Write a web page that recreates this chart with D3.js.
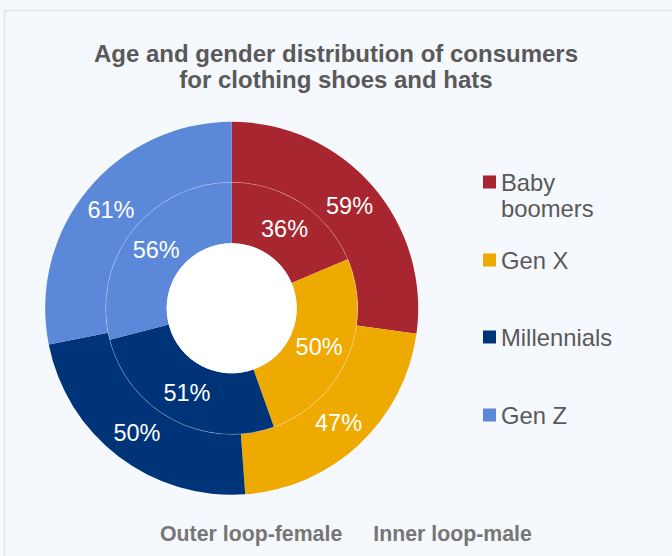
<!DOCTYPE html>
<html>
<head>
<meta charset="utf-8">
<script src="https://cdn.jsdelivr.net/npm/d3@7"></script>
<style>
  html, body { margin: 0; padding: 0; background: #f5f8fd; }
  svg { display: block; font-family: "Liberation Sans", Arial, sans-serif; }
</style>
</head>
<body>
<svg id="chart" width="672" height="556"></svg>
<script>
const categories = ["Baby boomers", "Gen X", "Millennials", "Gen Z"];
const legendLines = [["Baby", "boomers"], ["Gen X"], ["Millennials"], ["Gen Z"]];
const outerFemale = [59, 47, 50, 61];
const innerMale = [36, 50, 51, 56];
const colors = ["#a8262f", "#eeaa00", "#003478", "#5b88d8"];
const titleLines = ["Age and gender distribution of consumers", "for clothing shoes and hats"];
const footerTexts = ["Outer loop-female", "Inner loop-male"];

const svg = d3.select("#chart");
const W = 672, H = 556;

svg.append("rect").attr("width", W).attr("height", H).attr("fill", "#f5f8fd");
// frame (left + top lines)
svg.append("path")
  .attr("d", `M4.5,${H} L4.5,10.5 L${W},10.5`)
  .attr("fill", "none").attr("stroke", "#e2e4e8").attr("stroke-width", 1.5);

// title
svg.append("g").selectAll("text").data(titleLines).join("text")
  .attr("x", 336).attr("y", (d, i) => 61.5 + i * 26.7)
  .attr("text-anchor", "middle")
  .attr("font-size", 24).attr("font-weight", "bold").attr("fill", "#595959")
  .text(d => d);

const cx = 231.7, cy = 308.3;
const rHole = 65, rMid = 126, rOuter = 186.5;

const pie = d3.pie().sort(null).value(d => d);
const color = d3.scaleOrdinal().domain(d3.range(categories.length)).range(colors);

const g = svg.append("g").attr("transform", `translate(${cx},${cy})`);

const arcOuter = d3.arc().innerRadius(rMid).outerRadius(rOuter);
const arcInner = d3.arc().innerRadius(rHole).outerRadius(rMid);

const outerArcs = pie(outerFemale);
const innerArcs = pie(innerMale);

g.append("g").selectAll("path").data(outerArcs).join("path")
  .attr("d", arcOuter).attr("fill", (d, i) => color(i));
g.append("g").selectAll("path").data(innerArcs).join("path")
  .attr("d", arcInner).attr("fill", (d, i) => color(i));

// faint separator between rings
g.append("circle").attr("r", rMid).attr("fill", "none")
  .attr("stroke", "#ffffff").attr("stroke-opacity", 0.3).attr("stroke-width", 0.8);
// white hole
g.append("circle").attr("r", rHole).attr("fill", "#ffffff");

// labels
const labelFont = 23.5;
g.append("g").selectAll("text").data(outerArcs).join("text")
  .attr("transform", d => `translate(${arcOuter.centroid(d)})`)
  .attr("text-anchor", "middle").attr("dy", "0.36em")
  .attr("font-size", labelFont).attr("fill", "#ffffff")
  .text(d => d.data + "%");
g.append("g").selectAll("text").data(innerArcs).join("text")
  .attr("transform", d => `translate(${arcInner.centroid(d)})`)
  .attr("text-anchor", "middle").attr("dy", "0.36em")
  .attr("font-size", labelFont).attr("fill", "#ffffff")
  .text(d => d.data + "%");

// legend
const legendY = [182, 260, 337, 415];
const leg = svg.append("g").selectAll("g").data(categories).join("g")
  .attr("transform", (d, i) => `translate(483,${legendY[i]})`);
leg.append("rect").attr("x", 0).attr("y", -6.5).attr("width", 13).attr("height", 13)
  .attr("fill", (d, i) => color(i));
leg.each(function(d, i) {
  const t = d3.select(this).append("text")
    .attr("x", 18).attr("y", 8.5)
    .attr("font-size", 23.8).attr("fill", "#595959");
  t.selectAll("tspan").data(legendLines[i]).join("tspan")
    .attr("x", 18).attr("dy", (l, j) => j === 0 ? 0 : 26)
    .text(l => l);
});

// footer
const footerX = [160, 373.3];
svg.append("g").selectAll("text").data(footerTexts).join("text")
  .attr("x", (d, i) => footerX[i]).attr("y", 540.7)
  .attr("font-size", 21.3).attr("font-weight", "bold").attr("fill", "#767676")
  .text(d => d);
</script>
</body>
</html>
